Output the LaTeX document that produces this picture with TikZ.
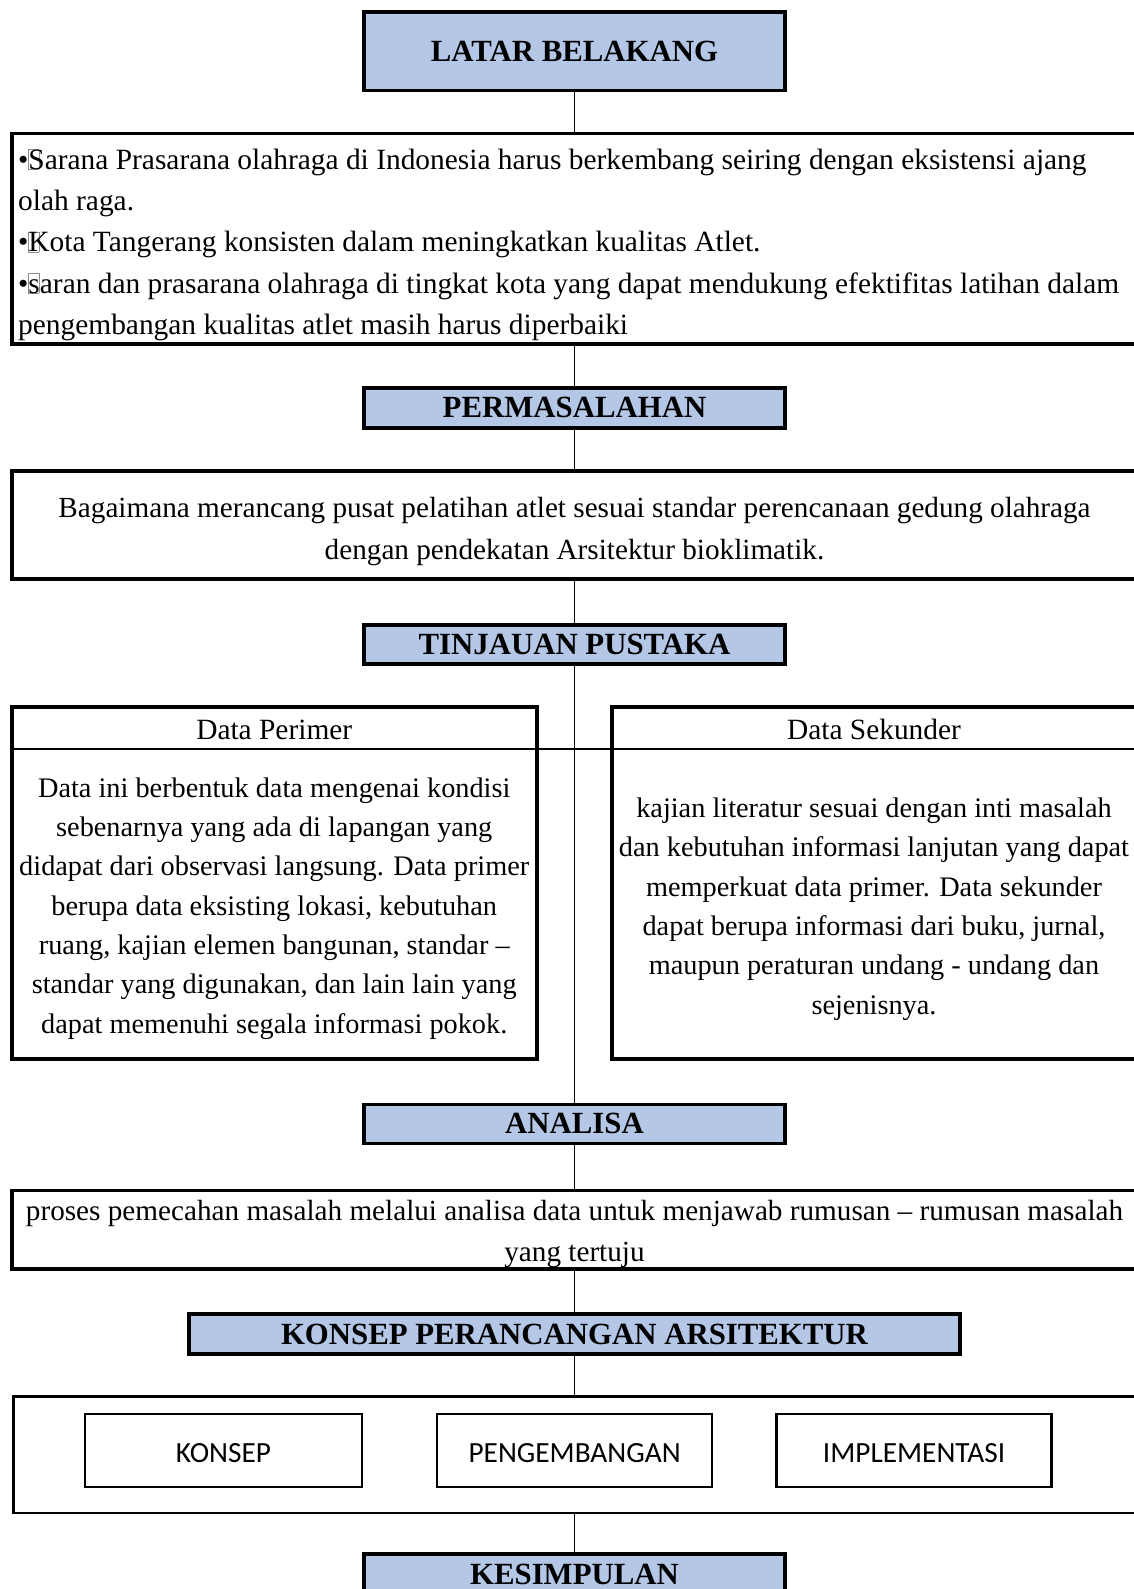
\documentclass[tikz,border=0pt]{standalone}
\usepackage{fontspec}
\setmainfont{Liberation Serif}
\newfontfamily\calfont{Carlito}
\definecolor{tblue}{RGB}{180,199,231}
\newcommand\gbx{\makebox[0pt][l]{\textcolor{black!45}{\setlength\fboxsep{0pt}\setlength\fboxrule{0.5pt}\fbox{\rule{0pt}{0.66em}\hspace{0.34em}}}}}
\tikzset{
  titlebox/.style={draw=black, line width=3.5pt, fill=tblue, inner sep=0pt,
    font=\bfseries\fontsize{30.8}{36}\selectfont, minimum width=421pt},
  widebox/.style={draw=black, line width=3.5pt, fill=white, inner sep=0pt, minimum width=1125pt},
  databox/.style={draw=black, line width=4pt, fill=white, inner sep=0pt},
  thinbox/.style={draw=black, line width=2.4pt, fill=white, inner sep=0pt},
  bodytext/.style={inner sep=0pt, font=\fontsize{29.4}{41.3}\selectfont},
  midtext/.style={inner sep=0pt, font=\fontsize{29.2}{41.3}\selectfont},
  datatext/.style={inner sep=0pt, align=center, font=\fontsize{28.3}{39.3}\selectfont},
  subtext/.style={font=\calfont\fontsize{29.3}{34}\selectfont, text height=23.8pt, text depth=0pt},
  conn/.style={draw=black, line width=1.6pt},
  sepline/.style={draw=black, line width=1.7pt}
}
\begin{document}
\begin{tikzpicture}[x=1pt,y=-1pt]
\useasboundingbox (0,0) rectangle (1134,1589);
\fill[white] (0,0) rectangle (1134,1589);
\clip (0,0) rectangle (1134,1589);

% main flow boxes
\node[titlebox, minimum height=78.6pt] (latar) at (574.5,51.2) {LATAR BELAKANG};
\node[widebox, minimum height=210.3pt] (box1) at (574.5,238.65) {};
\node[titlebox, minimum height=40pt] (perm) at (574.5,407.9) {PERMASALAHAN};
\node[widebox, minimum height=108pt] (box2) at (574.5,525) {};
\node[titlebox, minimum height=39pt] (tinj) at (574.5,644.5) {TINJAUAN PUSTAKA};
\node[databox, minimum width=524.5pt, minimum height=352pt] (dp) at (274.25,883) {};
\node[databox, minimum width=525pt, minimum height=352pt] (ds) at (874,883) {};
\node[titlebox, minimum height=39pt] (anal) at (574.5,1123.9) {ANALISA};
\node[widebox, minimum height=78.5pt] (box4) at (574.5,1229.75) {};
\node[titlebox, minimum width=770.7pt, minimum height=40pt] (kpa) at (574.5,1334.1) {KONSEP PERANCANGAN ARSITEKTUR};
\node[thinbox, minimum width=1122.4pt, minimum height=116.4pt] (box5) at (574.5,1454.7) {};
\node[thinbox, subtext, minimum width=276.6pt, minimum height=73pt] (k1) at (223.5,1450.7) {KONSEP};
\node[thinbox, subtext, minimum width=275pt, minimum height=73pt] (k2) at (574.6,1450.7) {PENGEMBANGAN};
\node[thinbox, subtext, minimum width=275pt, minimum height=73pt] (k3) at (914.1,1450.7) {IMPLEMENTASI};
\node[titlebox, minimum height=40pt] (kes) at (574.5,1574) {KESIMPULAN};

% connectors
\draw[conn] (latar.south) -- (box1.north);
\draw[conn] (box1.south) -- (perm.north);
\draw[conn] (perm.south) -- (box2.north);
\draw[conn] (box2.south) -- (tinj.north);
\draw[conn] (tinj.south) -- (anal.north);
\draw[conn] (anal.south) -- (box4.north);
\draw[conn] (box4.south) -- (kpa.north);
\draw[conn] (kpa.south) -- (box5.north);
\draw[conn] (box5.south) -- (kes.north);

% header separator across both data boxes
\coordinate (sepL) at (11,749);
\coordinate (sepR) at (1138,749);
\draw[sepline] (sepL) -- (sepR);

% texts
\node[bodytext, anchor=north west, align=left] (t1) at (18,140.1) {\strut•\gbx Sarana Prasarana olahraga di Indonesia harus berkembang seiring dengan eksistensi ajang\\
olah raga.\\
•\gbx Kota Tangerang konsisten dalam meningkatkan kualitas Atlet.\\
•\gbx saran dan prasarana olahraga di tingkat kota yang dapat mendukung efektifitas latihan dalam\\
pengembangan kualitas atlet masih harus diperbaiki};

\node[midtext, anchor=north, align=center] (t2) at (574.5,488.8) {\strut Bagaimana merancang pusat pelatihan atlet sesuai standar perencanaan gedung olahraga\\
dengan pendekatan Arsitektur bioklimatik.};

\node[bodytext, anchor=base] (dph) at (274.25,739) {Data Perimer};
\node[bodytext, anchor=base] (dsh) at (874,739) {Data Sekunder};

\node[datatext, anchor=north] (dpt) at (274.25,769.5) {\strut Data ini berbentuk data mengenai kondisi\\
sebenarnya yang ada di lapangan yang\\
didapat dari observasi langsung. Data primer\\
berupa data eksisting lokasi, kebutuhan\\
ruang, kajian elemen bangunan, standar –\\
standar yang digunakan, dan lain lain yang\\
dapat memenuhi segala informasi pokok.};

\node[datatext, anchor=north] (dst) at (874,789.9) {\strut kajian literatur sesuai dengan inti masalah\\
dan kebutuhan informasi lanjutan yang dapat\\
memperkuat data primer. Data sekunder\\
dapat berupa informasi dari buku, jurnal,\\
maupun peraturan undang - undang dan\\
sejenisnya.};

\node[midtext, anchor=north, align=center] (t4) at (574.5,1191.1) {\strut proses pemecahan masalah melalui analisa data untuk menjawab rumusan – rumusan masalah\\
yang tertuju};
\end{tikzpicture}
\end{document}
